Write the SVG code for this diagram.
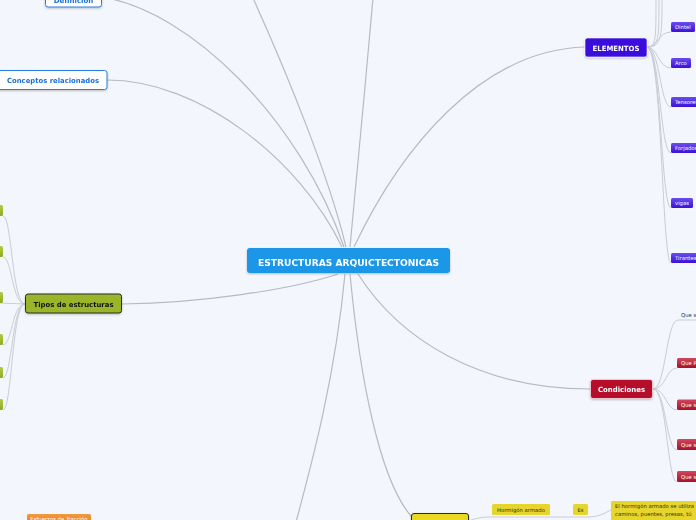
<svg xmlns="http://www.w3.org/2000/svg" width="696" height="520" viewBox="0 0 696 520">
<defs>
<style>
.c{fill:none;stroke:#b7bac4;stroke-width:1.2}
.s{fill:none;stroke:#c9ccd4;stroke-width:1}
.t{font-family:"DejaVu Sans","Liberation Sans",sans-serif;font-weight:bold}
.n{font-family:"DejaVu Sans","Liberation Sans",sans-serif;font-weight:normal}
.w{fill:#ffffff}
.sm{font-size:5.3px}
</style>
<linearGradient id="pu" x1="0" y1="0" x2="0" y2="1"><stop offset="0" stop-color="#6a4cf0"/><stop offset="1" stop-color="#3a12d8"/></linearGradient>
<linearGradient id="rd" x1="0" y1="0" x2="0" y2="1"><stop offset="0" stop-color="#d0485e"/><stop offset="1" stop-color="#a8102a"/></linearGradient>
<linearGradient id="gr" x1="0" y1="0" x2="0" y2="1"><stop offset="0" stop-color="#b4cc44"/><stop offset="1" stop-color="#8eaa22"/></linearGradient>
<linearGradient id="or" x1="0" y1="0" x2="0" y2="1"><stop offset="0" stop-color="#f09a40"/><stop offset="1" stop-color="#e27a1c"/></linearGradient>
<filter id="sh" x="-20%" y="-30%" width="140%" height="170%"><feDropShadow dx="0" dy="1" stdDeviation="0.8" flood-color="#000" flood-opacity="0.25"/></filter>
</defs>
<rect width="696" height="520" fill="#f3f6fd"/>
<g id="connectors">
<path class="c" d="M101,-3 C190,10 300,120 344,247"/>
<path class="c" d="M107,80 C200,80 300,160 342,247"/>
<path class="c" d="M253,-2 C290,80 330,180 346,247"/>
<path class="c" d="M373,-2 C366,80 356,180 350,247"/>
<path class="c" d="M354,247 C400,150 480,50 585,47"/>
<path class="c" d="M358,274 C400,340 480,389 590,389"/>
<path class="c" d="M122,304 C200,303 290,290 338,274"/>
<path class="c" d="M350,274 C360,380 380,480 411,516"/>
<path class="c" d="M345,274 C335,380 310,470 296,522"/>
<path class="s" d="M647,47 C656,47 656,40 656,-2"/>
<path class="s" d="M647,47 C659,47 659,38 659,-2"/>
<path class="s" d="M647,47 C662,47 662,36 662,-2"/>
<path class="s" d="M647,47 C658,47 658,32 671,32"/>
<path class="s" d="M647,47 C658,47 658,68 671,68"/>
<path class="s" d="M647,47 C660,47 660,107 671,107"/>
<path class="s" d="M647,47 C660,47 660,153 671,153"/>
<path class="s" d="M647,47 C661,47 661,208 671,208"/>
<path class="s" d="M647,47 C662,47 662,263 671,263"/>
<path class="s" d="M653,389 C666,389 666,320 678,320 L696,320"/>
<path class="s" d="M653,389 C666,389 666,368 677,368"/>
<path class="s" d="M653,389 C666,389 666,410 677,410"/>
<path class="s" d="M653,389 C666,389 666,450 677,450"/>
<path class="s" d="M653,389 C667,389 667,482 677,482"/>
<path class="s" d="M25,304 C12,304 12,216 3,216"/>
<path class="s" d="M25,304 C12,304 12,257 3,257"/>
<path class="s" d="M25,304 L0,303"/>
<path class="s" d="M25,304 C12,304 12,345 3,345"/>
<path class="s" d="M25,304 C12,304 12,378 3,378"/>
<path class="s" d="M25,304 C12,304 12,410 3,410"/>
<path class="s" d="M466,522 C478,517 485,517 492,517 L588,517 C598,517 603,514 611,510"/>
</g>
<g id="center" filter="url(#sh)">
<rect x="247" y="248" width="203" height="25" rx="3" fill="#1a96e6"/>
<text class="t w" x="348.5" y="265.5" font-size="9" text-anchor="middle" textLength="181" lengthAdjust="spacingAndGlyphs">ESTRUCTURAS ARQUICTECTONICAS</text>
</g>
<g id="definicion" filter="url(#sh)">
<rect x="45.5" y="-12" width="56" height="19" rx="2.5" fill="#ffffff" stroke="#2a7fe0" stroke-width="1"/>
<text class="t" x="73.5" y="2.5" font-size="7" fill="#1a6fd8" text-anchor="middle">Definición</text>
</g>
<g id="conceptos" filter="url(#sh)">
<rect x="-3" y="70.5" width="110" height="19" rx="2.5" fill="#ffffff" stroke="#2a7fe0" stroke-width="1"/>
<text class="t" x="53" y="82.5" font-size="7" fill="#1a6fd8" text-anchor="middle" textLength="92" lengthAdjust="spacingAndGlyphs">Conceptos relacionados</text>
</g>
<g id="elementos" filter="url(#sh)">
<rect x="585" y="38" width="62" height="19" rx="2.5" fill="#3b10dd" stroke="#ffffff" stroke-width="0.6"/>
<text class="t w" x="616" y="50.5" font-size="7.2" text-anchor="middle" textLength="47" lengthAdjust="spacingAndGlyphs">ELEMENTOS</text>
</g>
<g id="dintel"><rect x="671" y="22" width="24" height="10" rx="1.5" fill="url(#pu)"/><text class="n w sm" x="675" y="29">Dintel</text></g>
<g id="arco"><rect x="671" y="58" width="20" height="10" rx="1.5" fill="url(#pu)"/><text class="n w sm" x="675" y="65">Arco</text></g>
<g id="tensores"><rect x="671" y="97" width="30" height="10" rx="1.5" fill="url(#pu)"/><text class="n w sm" x="675" y="104">Tensores</text></g>
<g id="forjados"><rect x="671" y="143" width="30" height="10" rx="1.5" fill="url(#pu)"/><text class="n w sm" x="675" y="150">Forjados</text></g>
<g id="vigas"><rect x="671" y="198" width="22" height="10" rx="1.5" fill="url(#pu)"/><text class="n w sm" x="675" y="205">vigas</text></g>
<g id="tirantes"><rect x="671" y="253" width="30" height="10" rx="1.5" fill="url(#pu)"/><text class="n w sm" x="675" y="260">Tirantes</text></g>
<g id="condiciones" filter="url(#sh)">
<rect x="590.5" y="379.5" width="62" height="19" rx="2.5" fill="#b5102a" stroke="#ffffff" stroke-width="0.6"/>
<text class="t w" x="621.5" y="392" font-size="7.2" text-anchor="middle" textLength="47" lengthAdjust="spacingAndGlyphs">Condiciones</text>
</g>
<g id="cond1"><text class="n sm" x="681" y="317" fill="#333333">Que s</text></g>
<g id="cond2"><rect x="677" y="358" width="24" height="10" rx="1.5" fill="url(#rd)"/><text class="n w sm" x="681" y="365">Que P</text></g>
<g id="cond3"><rect x="677" y="399.5" width="24" height="10.5" rx="1.5" fill="url(#rd)"/><text class="n w sm" x="681" y="406.5">Que s</text></g>
<g id="cond4"><rect x="677" y="439" width="24" height="11" rx="1.5" fill="url(#rd)"/><text class="n w sm" x="681" y="446.5">Que s</text></g>
<g id="cond5"><rect x="677" y="471" width="24" height="11" rx="1.5" fill="url(#rd)"/><text class="n w sm" x="681" y="478.5">Que s</text></g>
<g id="tipos" filter="url(#sh)">
<rect x="25.5" y="294" width="96" height="19" rx="2.5" fill="#9ab52a" stroke="#2a2a2a" stroke-width="1"/>
<text class="t" x="73.5" y="306.5" font-size="7" fill="#111111" text-anchor="middle" textLength="80" lengthAdjust="spacingAndGlyphs">Tipos de estructuras</text>
</g>
<g id="tipo1"><rect x="-4" y="205" width="7" height="11" rx="1.5" fill="url(#gr)"/></g>
<g id="tipo2"><rect x="-4" y="246" width="7" height="11" rx="1.5" fill="url(#gr)"/></g>
<g id="tipo3"><rect x="-4" y="292" width="7" height="11" rx="1.5" fill="url(#gr)"/></g>
<g id="tipo4"><rect x="-4" y="334" width="7" height="11" rx="1.5" fill="url(#gr)"/></g>
<g id="tipo5"><rect x="-4" y="367" width="7" height="11" rx="1.5" fill="url(#gr)"/></g>
<g id="tipo6"><rect x="-4" y="399" width="7" height="11" rx="1.5" fill="url(#gr)"/></g>
<g id="esfuerzos"><rect x="27" y="514" width="64" height="12" rx="1.5" fill="url(#or)"/><text class="n w sm" x="59" y="521" text-anchor="middle">Esfuerzos de Tracción</text></g>
<g id="amarillo" filter="url(#sh)"><rect x="411.5" y="513.5" width="57" height="14" rx="2.5" fill="#e8d820" stroke="#2a2a2a" stroke-width="1"/></g>
<g id="hormigon"><rect x="492" y="504" width="58" height="11" rx="1.5" fill="#e6d52c"/><text class="n sm" x="521" y="511.8" fill="#333300" text-anchor="middle">Hormigón armado</text></g>
<g id="es"><rect x="573" y="504" width="15" height="11" rx="1.5" fill="#e6d52c"/><text class="n sm" x="580.5" y="511.8" fill="#333300" text-anchor="middle">Es</text></g>
<g id="hormigon-texto"><rect x="611" y="501" width="90" height="24" rx="1.5" fill="#e6d52c"/><text class="n sm" fill="#333300"><tspan x="615" y="508">El hormigón armado se utiliza</tspan><tspan x="615" y="515.5">caminos, puentes, presas, tú</tspan></text></g>
</svg>
